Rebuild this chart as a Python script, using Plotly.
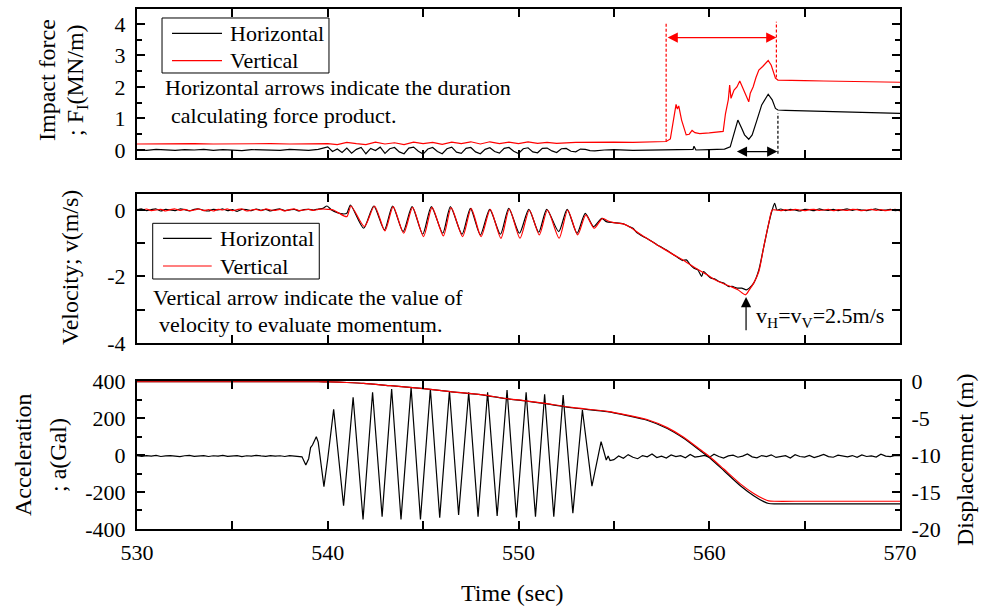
import numpy as np
import plotly.graph_objects as go

FONT = "Liberation Serif, Times New Roman, serif"

# ---------------- Impact force F_I (MN/m) ----------------
force_h_t = (list(np.arange(530, 540, 0.5)) + list(np.arange(540, 554.01, 0.25)) +
             [554.5, 555, 556, 557, 558, 559, 559.15, 559.2, 559.3, 560, 560.8, 561.1, 561.3,
              561.5, 561.7, 561.85, 562.07, 562.25, 562.5, 562.75, 563.09, 563.3, 563.47, 563.6,
              564, 565, 566, 567, 568, 569, 570])
force_h = ([0.01, -0.01, 0.02, 0.0, -0.01, 0.01, 0.0, 0.02, -0.01, 0.01,
            0.0, -0.02, 0.01, 0.0, 0.01, -0.01, 0.02, 0.0, -0.01, 0.02] +
           [0.10, -0.05, 0.03, -0.08, 0.06, -0.10, 0.02, 0.08, -0.12, 0.05,
            -0.02, 0.09, -0.11, 0.04, 0.08, -0.06, -0.12, 0.06, 0.09, -0.04,
            -0.13, 0.03, 0.08, -0.05, -0.12, 0.04, 0.09, -0.07, -0.11, 0.05,
            0.08, -0.06, -0.12, 0.02, 0.07, -0.05, -0.10, 0.05, 0.08, -0.04,
            -0.11, 0.04, 0.07, -0.06, -0.09, 0.05, 0.06, -0.03, -0.08, 0.04,
            0.05, -0.04, -0.06, 0.03, 0.02, -0.02, -0.03] +
           [0.0, 0.01, -0.01, 0.0, 0.01, 0.0, 0.02, 0.12, 0.0, 0.01, 0.03, 0.1, 0.52,
            0.95, 0.69, 0.48, 0.34, 0.48, 0.95, 1.43, 1.77, 1.59, 1.32, 1.27,
            1.26, 1.24, 1.22, 1.21, 1.19, 1.18, 1.16])

force_v_t = (list(np.arange(530, 540, 1.0)) +
             [540, 540.5, 541, 541.5, 542, 542.5, 543, 543.5, 544, 544.5, 545, 545.5, 546, 546.5,
              547, 547.5, 548, 548.5, 549, 549.5, 550, 550.5, 551, 551.5, 552, 553, 554, 555, 556,
              557, 557.74, 557.96, 558.1, 558.26, 558.33, 558.4, 558.55, 558.79, 558.95, 559.1,
              559.25, 559.5, 560, 560.5, 560.73, 560.85, 561.0, 561.07, 561.14, 561.3, 561.45,
              561.6, 561.8, 561.95, 562.07, 562.15, 562.3, 562.45, 562.6, 562.8, 563.09, 563.25,
              563.47, 563.6, 564, 565, 566, 567, 568, 569, 570])
force_v = ([0.19, 0.2, 0.19, 0.2, 0.19, 0.2, 0.19, 0.2, 0.19, 0.2] +
           [0.2, 0.17, 0.24, 0.2, 0.17, 0.25, 0.19, 0.23, 0.17, 0.25,
            0.2, 0.24, 0.18, 0.25, 0.2, 0.26, 0.19, 0.26, 0.2, 0.25,
            0.2, 0.26, 0.21, 0.24, 0.21, 0.24, 0.25, 0.25, 0.24, 0.26,
            0.27, 0.35, 0.9, 1.45, 1.3, 1.4, 0.95, 0.48, 0.5, 0.62,
            0.55, 0.52, 0.54, 0.56, 0.59, 1.15, 1.6, 2.06, 1.64, 1.9,
            2.0, 2.19, 1.92, 1.7, 1.53, 1.8, 2.0, 2.3, 2.54, 2.65,
            2.84, 2.69, 2.28, 2.22, 2.22, 2.2, 2.19, 2.18, 2.17, 2.16, 2.15])

# ---------------- Velocity v (m/s) ----------------
vel_h_t = (list(np.arange(530, 540, 0.25)) +
           [539.96, 540.2, 540.5, 540.8, 541.0, 541.19, 541.88, 542.41, 542.97, 543.40,
            543.95, 544.42, 544.98, 545.43, 546.03, 546.43, 547.04, 547.48, 548.0, 548.49,
            549.05, 549.49, 550.05, 550.54, 551.06, 551.48, 552.11, 552.55, 553.07, 553.5,
            553.94, 554.37, 554.6, 555.0, 555.5, 555.8, 556.0, 556.2, 556.39, 556.6,
            556.8, 557.0, 557.27, 557.5, 557.8, 558.14, 558.4, 558.6, 558.8, 559.01,
            559.2, 559.4, 559.6, 559.7, 559.89, 560.1, 560.3, 560.5, 560.76, 561.0,
            561.2, 561.46, 561.7, 561.95, 562.1, 562.33, 562.6, 562.86, 563.12, 563.3,
            563.43, 563.55] +
           list(np.arange(563.75, 570.01, 0.25)))
vel_h = ([0.0, 0.03, -0.02, 0.01, 0.03, -0.03, 0.02, 0.0, -0.02, 0.03,
          0.01, -0.03, 0.02, 0.03, -0.01, -0.03, 0.02, 0.0, 0.03, -0.02,
          0.01, -0.04, 0.02, 0.01, -0.02, 0.03, -0.01, 0.02, -0.03, 0.01,
          0.03, -0.02, 0.0, 0.02, -0.03, 0.01, 0.02, 0.0, 0.03, 0.05] +
         [0.12, 0.0, -0.08, -0.12, -0.1, 0.15, -0.55, 0.12, -0.6, 0.12,
          -0.65, 0.1, -0.73, 0.1, -0.7, 0.1, -0.73, 0.05, -0.75, 0.02,
          -0.73, 0.05, -0.7, 0.02, -0.67, 0.02, -0.65, 0.02, -0.7, -0.1,
          -0.5, -0.25, -0.35, -0.38, -0.42, -0.5, -0.55, -0.68, -0.75, -0.82,
          -0.88, -0.95, -1.05, -1.12, -1.22, -1.35, -1.45, -1.52, -1.5, -1.65,
          -1.75, -1.8, -2.0, -1.85, -1.95, -2.05, -2.08, -2.15, -2.2, -2.3,
          -2.3, -2.35, -2.35, -2.4, -2.35, -2.2, -1.8, -1.1, -0.4, 0.0,
          0.2, 0.0] +
         [0.03, -0.02, 0.02, 0.0, -0.03, 0.02, 0.01, -0.02, 0.03, 0.0,
          -0.01, 0.02, -0.02, 0.01, 0.03, -0.01, 0.02, 0.0, -0.02, 0.01,
          0.03, -0.01, 0.0, 0.02, -0.02, 0.01])

vel_v_t = (list(np.arange(530, 540, 0.25)) +
           [540.0, 540.3, 540.6, 541.0, 541.22, 541.92, 542.45, 543.0, 543.43, 543.98,
            544.45, 545.02, 545.47, 546.06, 546.47, 547.07, 547.52, 548.04, 548.52, 549.08,
            549.52, 550.08, 550.57, 551.09, 551.52, 552.13, 552.58, 553.1, 553.53, 553.97,
            554.4, 554.7, 555.0, 555.5, 556.0, 556.39, 556.8, 557.27, 557.7, 558.14,
            558.6, 559.01, 559.5, 559.89, 560.3, 560.76, 561.2, 561.5, 561.9, 562.1,
            562.33, 562.6, 562.86, 563.12, 563.3, 563.5] +
           list(np.arange(563.75, 570.01, 0.25)))
vel_v = ([0.02, -0.01, 0.03, -0.02, 0.0, 0.02, -0.03, 0.01, 0.03, -0.01,
          0.02, -0.02, 0.0, 0.03, -0.02, 0.01, -0.03, 0.02, 0.0, 0.03,
          -0.02, 0.01, 0.03, -0.03, 0.0, 0.02, -0.02, 0.03, 0.0, -0.01,
          0.02, -0.03, 0.01, 0.03, -0.02, 0.0, 0.02, -0.01, 0.02, 0.03] +
         [0.02, 0.0, -0.1, -0.2, 0.12, -0.5, 0.12, -0.63, 0.1, -0.7,
          0.08, -0.8, 0.08, -0.78, 0.07, -0.8, 0.05, -0.8, 0.02, -0.85,
          0.03, -0.85, 0.0, -0.75, 0.0, -0.85, 0.0, -0.75, -0.15, -0.55,
          -0.25, -0.33, -0.38, -0.42, -0.57, -0.73, -0.88, -1.05, -1.2, -1.35,
          -1.5, -1.65, -1.82, -1.95, -2.1, -2.22, -2.32, -2.4, -2.55, -2.4,
          -2.2, -1.85, -1.1, -0.4, 0.0, 0.0] +
         [-0.02, 0.01, -0.01, 0.02, 0.0, -0.02, 0.01, 0.02, -0.01, 0.0,
          0.02, -0.02, 0.01, 0.0, -0.01, 0.02, 0.01, -0.02, 0.0, 0.02,
          -0.01, 0.01, -0.02, 0.0, 0.02, -0.03])

# ---------------- Acceleration a (Gal) ----------------
acc_t = (list(np.arange(530, 538.5, 0.25)) +
         [538.5, 538.65, 538.85, 539.0, 539.1, 539.2, 539.4, 539.5, 539.8, 540.0,
          540.31, 540.83, 541.33, 541.85, 542.35, 542.85, 543.35, 543.84, 544.37, 544.86,
          545.38, 545.87, 546.38, 546.86, 547.39, 547.88, 548.38, 548.88, 549.40, 549.89,
          550.40, 550.89, 551.37, 551.85, 552.34, 552.85, 553.35, 553.85, 554.33, 554.6,
          554.7, 554.8] +
         list(np.arange(555.0, 570.01, 0.25)))
acc = ([-4, -7, -3, -6, -2, -8, -5, -3, -6, -9,
        -4, -2, -7, -5, -3, -8, -4, -6, -2, -7,
        -5, -3, -9, -4, -6, -2, -5, -7, -3, -6,
        -4, -8, -3, -5] +
       [-6, -10, -54, -20, 40, 54, 99, 70, -171, -20,
        247, -274, 312, -348, 339, -333, 357, -348, 364, -348,
        357, -339, 346, -324, 339, -333, 339, -330, 351, -337,
        339, -333, 328, -333, 324, -315, 243, -168, 72, -27,
        -5, -30] +
       [-25, -5, -18, 2, -12, -20, -3, -10, 5, -14,
        -6, -16, 0, -9, -4, -15, 3, -11, -7, -2,
        -13, 4, -8, -17, -5, -1, -12, -6, 6, -10,
        -15, -3, -9, 1, -13, -7, -4, -16, 2, -8,
        -11, -2, -14, -6, 3, -9, -12, -1, -7, -10,
        -3, -13, 0, -8, -5, -11, 4, -6, -9, -2,
        -4])

# ---------------- Displacement (m) ----------------
disp_t = [530, 535, 539.5, 540.14, 541.0, 541.88, 543.28, 545.03, 546.43, 548.17,
          549.22, 550.27, 551.3, 552.9, 554.65, 555.7, 556.74, 557.8, 558.66, 559.54,
          560.06, 560.76, 561.63, 562.33, 562.86, 563.12, 563.4, 565, 570]
disp_v = [-0.1, -0.1, -0.1, -0.12, -0.2, -0.31, -0.63, -1.03, -1.43, -1.88,
          -2.33, -2.64, -3.0, -3.6, -4.1, -4.6, -5.2, -6.3, -7.6, -9.3,
          -10.3, -11.9, -13.9, -15.2, -15.95, -16.2, -16.25, -16.25, -16.25]
disp_h = [-0.1, -0.1, -0.1, -0.12, -0.2, -0.31, -0.63, -1.03, -1.43, -1.9,
          -2.35, -2.67, -3.03, -3.65, -4.15, -4.68, -5.3, -6.42, -7.75, -9.45,
          -10.47, -12.1, -14.15, -15.5, -16.3, -16.55, -16.6, -16.6, -16.6]

# ---------------- Tick labels ----------------
x_ticks = [530, 540, 550, 560, 570]
x_minor = [535, 545, 555, 565]
f_ticks = [0, 1, 2, 3, 4]
f_minor = [0.5, 1.5, 2.5, 3.5]
v_ticks = [0, -2, -4]
v_ticktext = ["0", "-2", "-4"]
v_minor = [-1, -3]
a_ticks = [400, 200, 0, -200, -400]
a_ticktext = ["400", "200", "0", "-200", "-400"]
a_minor = [300, 100, -100, -300]
d_ticks = [0, -5, -10, -15, -20]
d_ticktext = ["0", "-5", "-10", "-15", "-20"]
d_minor = [-2.5, -7.5, -12.5, -17.5]
series_names = ["Horizontal", "Vertical"]

# ---------------- Event markers ----------------
red_span = [557.74, 563.52]
red_arrow_level = 3.57
black_span = [561.37, 563.57]
black_arrow_level = -0.05
v_mark_t = 561.93
v_mark_range = [-3.66, -2.62]

BLACK = "#000000"
RED = "#ff0000"
LW = 1.2

fig = go.Figure()
fig.add_trace(go.Scatter(x=force_h_t, y=force_h, mode="lines", name=series_names[0], showlegend=False,
                         line=dict(color=BLACK, width=LW), xaxis="x", yaxis="y"))
fig.add_trace(go.Scatter(x=force_v_t, y=force_v, mode="lines", name=series_names[1], showlegend=False,
                         line=dict(color=RED, width=LW), xaxis="x", yaxis="y"))
fig.add_trace(go.Scatter(x=vel_h_t, y=vel_h, mode="lines", name=series_names[0], showlegend=False,
                         line=dict(color=BLACK, width=LW, shape="spline", smoothing=0.7),
                         xaxis="x2", yaxis="y2"))
fig.add_trace(go.Scatter(x=vel_v_t, y=vel_v, mode="lines", name=series_names[1], showlegend=False,
                         line=dict(color=RED, width=LW, shape="spline", smoothing=0.7),
                         xaxis="x2", yaxis="y2"))
fig.add_trace(go.Scatter(x=acc_t, y=acc, mode="lines", showlegend=False,
                         line=dict(color=BLACK, width=LW), xaxis="x3", yaxis="y3"))
fig.add_trace(go.Scatter(x=disp_t, y=disp_h, mode="lines", showlegend=False,
                         line=dict(color=BLACK, width=LW, shape="spline", smoothing=0.6),
                         xaxis="x3", yaxis="y4"))
fig.add_trace(go.Scatter(x=disp_t, y=disp_v, mode="lines", showlegend=False,
                         line=dict(color=RED, width=LW, shape="spline", smoothing=0.6),
                         xaxis="x3", yaxis="y4"))

tickfont = dict(family=FONT, size=22, color="black")
base = dict(showline=True, linecolor="black", linewidth=2, ticks="inside", tickcolor="black",
            tickwidth=1.5, ticklen=8, showgrid=False, zeroline=False, tickfont=tickfont,
            automargin=False)


def minor(vals, ln=5):
    return dict(tickvals=vals, ticks="inside", ticklen=ln, tickcolor="black", tickwidth=1.5,
                showgrid=False)


xcommon = dict(base, range=[530, 570], tickvals=x_ticks, mirror="ticks", minor=minor(x_minor, 8),
               ticklabelstandoff=3)

D_TOP = [0.7135, 1.0]
D_MID = [0.3577, 0.6442]
D_BOT = [0.0, 0.2846]

fig.update_layout(
    width=983, height=611,
    margin=dict(l=137, r=83, t=9, b=82, autoexpand=False),
    paper_bgcolor="white", plot_bgcolor="white",
    font=dict(family=FONT, size=22, color="black"),
    showlegend=False,
    xaxis=dict(xcommon, domain=[0, 1], anchor="y", showticklabels=False),
    xaxis2=dict(xcommon, domain=[0, 1], anchor="y2", showticklabels=False, matches="x"),
    xaxis3=dict(xcommon, domain=[0, 1], anchor="y3", showticklabels=True, matches="x"),
    yaxis=dict(base, domain=D_TOP, anchor="x", range=[-0.254, 4.476], tickvals=f_ticks,
               mirror="ticks", minor=minor(f_minor), ticklabelstandoff=5),
    yaxis2=dict(base, domain=D_MID, anchor="x2", range=[-4, 0.48], tickvals=v_ticks,
                ticktext=v_ticktext, mirror="ticks", minor=minor(v_minor, 8), ticklabelstandoff=5),
    yaxis3=dict(base, domain=D_BOT, anchor="x3", range=[-400, 400], tickvals=a_ticks,
                ticktext=a_ticktext, mirror=True, minor=minor(a_minor), ticklabelstandoff=5),
    yaxis4=dict(base, overlaying="y3", side="right", anchor="x3", range=[-20, 0],
                tickvals=d_ticks, ticktext=d_ticktext, minor=minor(d_minor), ticklabelstandoff=5),
)

# ---- legends (boxed, drawn in axis-domain coordinates) ----
tf = dict(family=FONT, size=22, color="black")


def add_legend(xr, yr, box, line_x, text_x, rows):
    fig.add_shape(type="rect", xref=xr, yref=yr, x0=box[0], x1=box[1], y0=box[2], y1=box[3],
                  line=dict(color="black", width=1), fillcolor="white", layer="above")
    for (yy, col, name) in rows:
        fig.add_shape(type="line", xref=xr, yref=yr, x0=line_x[0], x1=line_x[1], y0=yy, y1=yy,
                      line=dict(color=col, width=LW), layer="above")
        fig.add_annotation(xref=xr, yref=yr, x=text_x, y=yy, text=name, showarrow=False,
                           xanchor="left", yanchor="middle", font=tf)


add_legend("x domain", "y domain", [0.0328, 0.2516, 0.5705, 0.9396], [0.0459, 0.1114], 0.1193,
           [(0.8369, BLACK, series_names[0]), (0.653, RED, series_names[1])])
add_legend("x2 domain", "y2 domain", [0.0206, 0.2389, 0.4295, 0.8034], [0.0341, 0.0979], 0.1066,
           [(0.7027, BLACK, series_names[0]), (0.5168, RED, series_names[1])])

# dashed duration markers
dash = dict(width=1.2, dash="3px,2px")
fig.add_shape(type="line", xref="x", yref="y", x0=red_span[0], x1=red_span[0], y0=0.26, y1=4.07,
              line=dict(color=RED, **dash))
fig.add_shape(type="line", xref="x", yref="y", x0=red_span[1], x1=red_span[1], y0=2.3, y1=4.07,
              line=dict(color=RED, **dash))
fig.add_shape(type="line", xref="x", yref="y", x0=black_span[1] + 0.03, x1=black_span[1] + 0.03,
              y0=-0.12, y1=1.17, line=dict(color=BLACK, **dash))

arrow_common = dict(text="", showarrow=True, arrowhead=2, startarrowhead=2, arrowside="end+start",
                    arrowsize=1.7, startarrowsize=1.7, arrowwidth=1.2, standoff=0, startstandoff=0,
                    axref="x", ayref="y", xref="x", yref="y")
fig.add_annotation(x=red_span[1], y=red_arrow_level, ax=red_span[0], ay=red_arrow_level,
                   arrowcolor=RED, **arrow_common)
fig.add_annotation(x=black_span[1], y=black_arrow_level, ax=black_span[0], ay=black_arrow_level,
                   arrowcolor=BLACK, **arrow_common)
fig.add_annotation(x=v_mark_t, y=v_mark_range[1], ax=v_mark_t, ay=v_mark_range[0], text="",
                   showarrow=True, arrowhead=2, arrowsize=1.7, arrowwidth=1.2, arrowcolor=BLACK,
                   standoff=0, axref="x2", ayref="y2", xref="x2", yref="y2")

texts = [
    ("x", "y", 531.38, 1.97, "Horizontal arrows indicate the duration"),
    ("x", "y", 531.66, 1.08, "calculating force product."),
    ("x2", "y2", 530.73, -2.62, "Vertical arrow indicate the value of"),
    ("x2", "y2", 531.05, -3.43, "velocity to evaluate momentum."),
    ("x2", "y2", 562.33, -3.22, "v<sub>H</sub>=v<sub>V</sub>=2.5m/s"),
]
for xr, yr, xv, yv, tx in texts:
    fig.add_annotation(xref=xr, yref=yr, x=xv, y=yv, text=tx, showarrow=False,
                       xanchor="left", yanchor="middle", font=tf)

# axis titles (pixel positioned relative to the plot area)
PLOT_L, PLOT_B, PLOT_H = 137, 529, 520


def paper_y(py):
    return (PLOT_B - py) / PLOT_H


titles = [
    ("Impact force", 47, 80, -90, 24),
    ("; F<sub>I</sub>(MN/m)", 77, 80, -90, 24),
    ("Velocity; v(m/s)", 70, 268, -90, 24),
    ("Acceleration", 23, 455, -90, 24),
    ("; a(Gal)", 58, 455, -90, 24),
    ("Displacement (m)", 965, 460, -90, 24),
    ("Time (sec)", 512, 593, 0, 24),
]
for tx, px, py, ang, fs in titles:
    fig.add_annotation(xref="paper", yref="paper", x=0, y=paper_y(py), xshift=px - PLOT_L,
                       text=tx, showarrow=False, textangle=ang, xanchor="center",
                       yanchor="middle", font=dict(family=FONT, size=fs, color="black"))

fig.write_html("out.html", config={"displayModeBar": False},
               post_script="document.body.style.margin='0';document.body.style.overflow='hidden';")
